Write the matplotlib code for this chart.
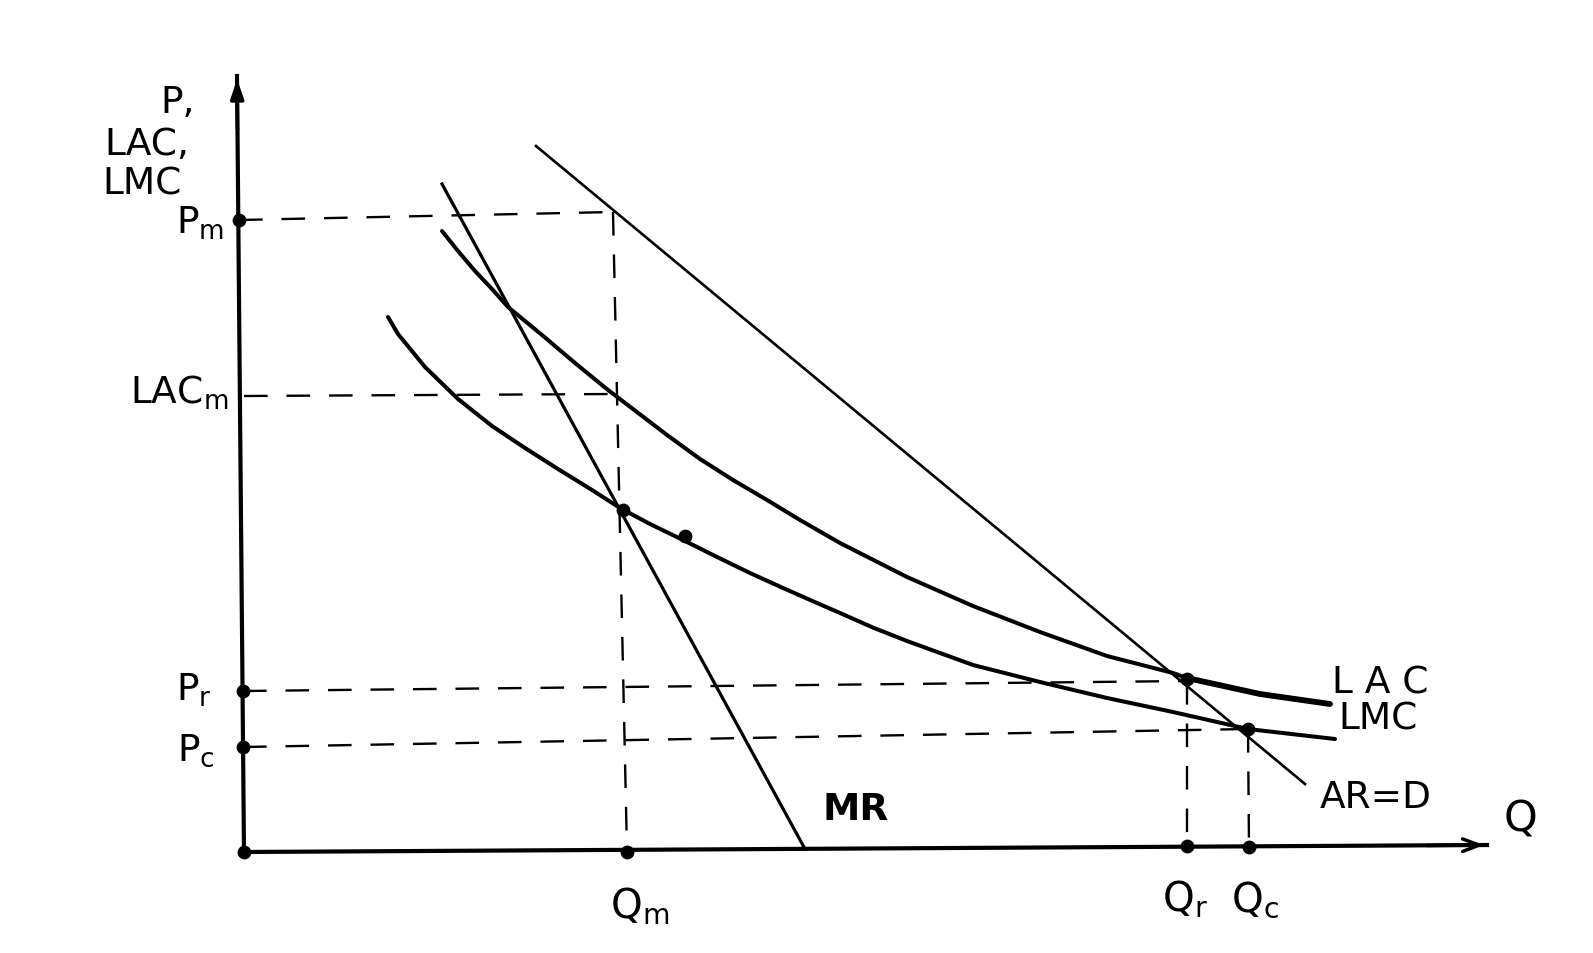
import matplotlib
matplotlib.use("Agg")
import matplotlib.pyplot as plt

# economic units: Q to the right, P upward (hand drawing, axes slightly tilted)
axis_y = [(0, 0), (-0.7, 77.6)]
axis_x = [(0, 0), (124.3, 0.7)]

demand_q = [29.2, 106.1]
demand_p = [70.6, 6.8]

mr_q = [19.8, 56.1]
mr_p = [66.8, 0.3]

lac_q = [19.8, 21.4, 23.1, 24.8, 26.4, 29.8, 33.1, 36.4, 38.9, 42.3, 45.6, 48.9, 52.3, 55.6,
         59.6, 66.3, 72.9, 79.6, 86.3, 92.9, 94.3, 101.6, 108.6]
lac_p = [62.1, 60.1, 58.1, 56.3, 54.5, 51.7, 48.9, 46.2, 44.3, 41.7, 39.3, 37.2, 35.2, 33.2,
         30.9, 27.5, 24.6, 22.0, 19.6, 17.9, 17.4, 15.8, 14.8]

lmc_q = [14.4, 15.4, 18.1, 21.4, 24.8, 28.1, 31.4, 34.8, 37.6, 40.6, 43.9, 47.3, 50.6, 53.9,
         57.3, 59.6, 63.0, 66.3, 72.9, 79.6, 86.3, 92.9, 100.4, 105.6, 109.1]
lmc_p = [53.5, 51.8, 48.5, 45.3, 42.6, 40.4, 38.3, 36.2, 34.4, 32.8, 31.2, 29.5, 27.9, 26.4,
         24.9, 23.9, 22.4, 21.1, 18.7, 17.0, 15.4, 14.0, 12.3, 11.7, 11.3]

# dashed guide lines: (q0, p0, q1, p1)
guides = {
    "Pm": (-0.5, 63.2, 36.9, 64.0),
    "Qm": (36.9, 64.0, 38.3, 0.0),
    "LACm": (0.0, 45.6, 37.1, 45.8),
    "Pr": (-0.1, 16.1, 94.3, 17.1),
    "Pc": (-0.1, 10.5, 100.4, 12.3),
    "Qr": (94.3, 17.1, 94.3, 0.6),
    "Qc": (100.4, 12.3, 100.5, 0.5),
}

dots_q = [-0.5, -0.1, -0.1, 0.0, 38.3, 94.3, 100.5, 37.9, 94.3, 100.4, 44.1]
dots_p = [63.2, 16.1, 10.5, 0.0, 0.0, 0.6, 0.5, 34.2, 17.3, 12.3, 31.6]

fig = plt.figure(figsize=(15.93, 9.54), dpi=100)
ax = fig.add_axes([0, 0, 1, 1])
ax.set_xlim(-24.4, 134.9)
ax.set_ylim(-10.1, 85.3)
ax.axis("off")

# axes with arrows
ax.plot(*zip(*axis_y), color="k", lw=3)
ax.plot(*zip(*axis_x), color="k", lw=3)
ax.annotate("", xy=axis_y[1], xytext=(-0.65, 72),
            arrowprops=dict(arrowstyle="-|>,head_length=1.2,head_width=0.4", color="k", lw=2.5))
ax.annotate("", xy=axis_x[1], xytext=(118, 0.65),
            arrowprops=dict(arrowstyle="->,head_length=1.2,head_width=0.45", color="k", lw=2.5))

for q0, p0, q1, p1 in guides.values():
    ax.plot([q0, q1], [p0, p1], color="k", lw=1.7, linestyle=(0, (10, 8)))

ax.plot(demand_q, demand_p, color="k", lw=1.9)
ax.plot(mr_q, mr_p, color="k", lw=2.3)
ax.plot(lac_q, lac_p, color="k", lw=2.9, solid_capstyle="round", solid_joinstyle="round")
ax.plot(lac_q[-3:], lac_p[-3:], color="k", lw=4.2, solid_capstyle="round")
ax.plot(lmc_q, lmc_p, color="k", lw=2.9, solid_capstyle="round", solid_joinstyle="round")

ax.scatter(dots_q, dots_p, s=80, color="k", zorder=5)

fs = 27
ax.text(-6.6, 75.0, "P,", fontsize=fs, ha="center", va="center")
ax.text(-9.7, 70.8, "LAC,", fontsize=fs, ha="center", va="center")
ax.text(-10.2, 66.8, "LMC", fontsize=fs, ha="center", va="center")
ax.text(-2.0, 63.0, r"P$_\mathrm{m}$", fontsize=fs, ha="right", va="center")
ax.text(-1.6, 46.0, r"LAC$_\mathrm{m}$", fontsize=fs, ha="right", va="center")
ax.text(-3.2, 16.3, r"P$_\mathrm{r}$", fontsize=fs, ha="right", va="center")
ax.text(-2.9, 10.2, r"P$_\mathrm{c}$", fontsize=fs, ha="right", va="center")
ax.text(57.9, 4.3, "MR", fontsize=fs, ha="left", va="center", fontweight="bold")
ax.text(108.8, 16.9, "L A C", fontsize=fs, ha="left", va="center")
ax.text(109.4, 13.3, "LMC", fontsize=fs, ha="left", va="center")
ax.text(107.6, 5.5, "AR=D", fontsize=fs, ha="left", va="center")
ax.text(127.6, 3.3, "Q", fontsize=fs + 4, ha="center", va="center")
ax.text(39.6, -5.4, r"Q$_\mathrm{m}$", fontsize=fs + 2, ha="center", va="center")
ax.text(94.1, -4.7, r"Q$_\mathrm{r}$", fontsize=fs + 2, ha="center", va="center")
ax.text(101.1, -4.7, r"Q$_\mathrm{c}$", fontsize=fs + 2, ha="center", va="center")

fig.savefig("out.png", dpi=100)
